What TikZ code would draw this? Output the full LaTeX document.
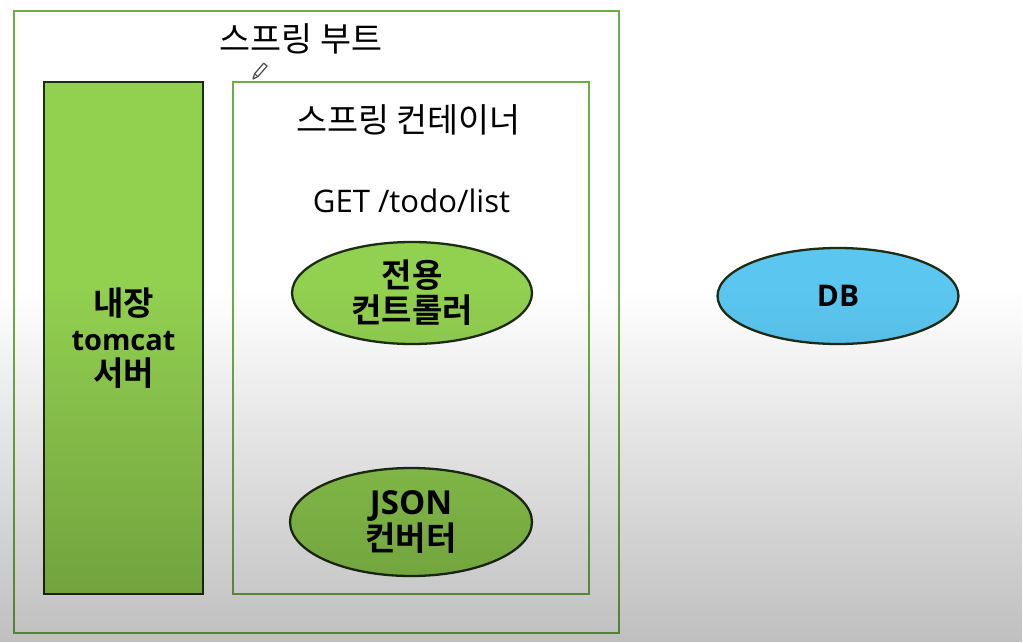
\documentclass[tikz,border=0pt]{standalone}
\usepackage{fontspec}
\setmainfont{Noto Sans CJK KR}[BoldFont={Noto Sans CJK KR Bold}]
\newfontfamily\lat{Open Sans}
\usetikzlibrary{shapes.geometric,fadings}
\definecolor{gline}{HTML}{6FAC46}
\definecolor{gfill}{HTML}{92D050}
\definecolor{dline}{HTML}{1E2C14}
\definecolor{dbfill}{HTML}{5BC7F0}
\tikzfading[name=fadedown, top color=transparent!100, bottom color=transparent!0]
\tikzset{
  frame/.style={draw=gline, line width=1.5pt, fill=none, rectangle, inner sep=0pt},
  bar/.style={draw=dline, line width=1.3pt, fill=gfill, rectangle, inner sep=0pt,
    font=\fontsize{18.8}{20}\selectfont\bfseries, align=center},
  oval/.style={ellipse, draw=dline, line width=1.3pt, fill=gfill, inner sep=0pt,
    font=\fontsize{18.8}{20}\selectfont\bfseries, align=center},
  dbstyle/.style={ellipse, draw=dline, line width=1.3pt, fill=dbfill, inner sep=0pt,
    font=\lat\fontsize{17}{20}\selectfont\bfseries},
  lbl/.style={inner sep=0pt, font=\fontsize{19.2}{20}\selectfont},
}
\begin{document}
\begin{tikzpicture}[x=0.02cm, y=-0.02cm]
\useasboundingbox (0,0) rectangle (1023,642);
\fill[white] (0,0) rectangle (1023,642);

% outer frame: spring boot
\node[frame, minimum width=12.1cm, minimum height=12.44cm] (boot) at (316.5,322) {};
\node[lbl] (boottitle) at (301,39) {스프링 부트};

% pencil cursor
\draw[black!70, line width=0.7pt, line join=round, fill=white]
  (253,79) -- (257.9,76.6) -- (267.1,66.0) -- (263.7,63.2) -- (254.6,73.8) -- cycle;
\draw[black!70, line width=0.6pt] (257.9,76.6) -- (254.6,73.8);

% embedded tomcat bar
\node[bar, minimum width=3.18cm, minimum height=10.24cm] (tomcat) at (123.5,338)
  {내장\\{\lat\bfseries\fontsize{16.5}{20}\selectfont tomcat}\\서버};

% inner frame: spring container
\node[frame, minimum width=7.12cm, minimum height=10.24cm] (container) at (411,338) {};
\node[lbl] (conttitle) at (408.5,119.5) {스프링 컨테이너};
\node[lbl, font=\lat\fontsize{17.7}{20}\selectfont, anchor=base] (get) at (411.5,212) {GET /todo/list};

% controller
\node[oval, minimum width=4.8cm, minimum height=2.04cm] (ctrl) at (412,293) {전용\\컨트롤러};
% json converter
\node[oval, minimum width=4.84cm, minimum height=2.16cm] (json) at (411,522) {{\lat\bfseries JSON}\\컨버터};

% DB
\node[dbstyle, minimum width=4.82cm, minimum height=1.92cm] (db) at (838,296) {DB};

% video darkening gradient
\fill[black, fill opacity=0.25, path fading=fadedown] (0,290) rectangle (1023,642);
\end{tikzpicture}
\end{document}
